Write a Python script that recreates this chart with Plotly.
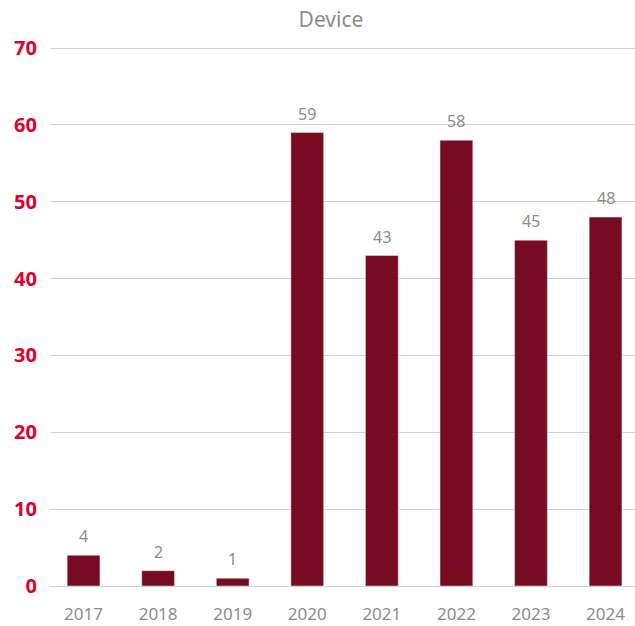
import plotly.graph_objects as go

years = ["2017", "2018", "2019", "2020", "2021", "2022", "2023", "2024"]
values = [4, 2, 1, 59, 43, 58, 45, 48]
y_ticks = [0, 10, 20, 30, 40, 50, 60, 70]

BAR = "#770b22"
RED = "#e0002b"
GRAY = "#8c8c8c"
FONT = "Noto Sans"

fig = go.Figure()
fig.add_trace(go.Bar(x=years, y=values, marker_color=BAR, width=0.44,
                     hoverinfo="x+y"))

for i, v in enumerate(values):
    fig.add_annotation(x=i, y=v, text=str(values[i]), showarrow=False,
                       xref="x", yref="y",
                       yanchor="bottom", yshift=6,
                       font=dict(family=FONT, size=16, color=GRAY))

fig.update_layout(
    width=635, height=626,
    margin=dict(l=50, r=0, t=46, b=40),
    paper_bgcolor="white", plot_bgcolor="white",
    showlegend=False,
    title=dict(text="Device", x=331/635, xanchor="center", xref="container",
               y=1 - 20/626, yanchor="middle", yref="container",
               font=dict(family=FONT, size=21, color=GRAY)),
    xaxis=dict(type="category", range=[-0.45, 7.395], showgrid=False,
               showline=False, zeroline=False, ticks="",
               tickfont=dict(family=FONT, size=17, color=GRAY),
               ticklabelstandoff=16),
    yaxis=dict(range=[0, 70.26], tickvals=y_ticks, showgrid=True,
               gridcolor="#d3d3d3", gridwidth=1, zeroline=True,
               zerolinecolor="#d3d3d3", zerolinewidth=1, showline=False,
               ticks="", ticklabelstandoff=12,
               tickfont=dict(family=FONT, size=20, color=RED, weight="bold")),
)

fig.write_html("out.html", config={"displayModeBar": False},
               post_script="document.body.style.margin='0';document.body.style.overflow='hidden';")
